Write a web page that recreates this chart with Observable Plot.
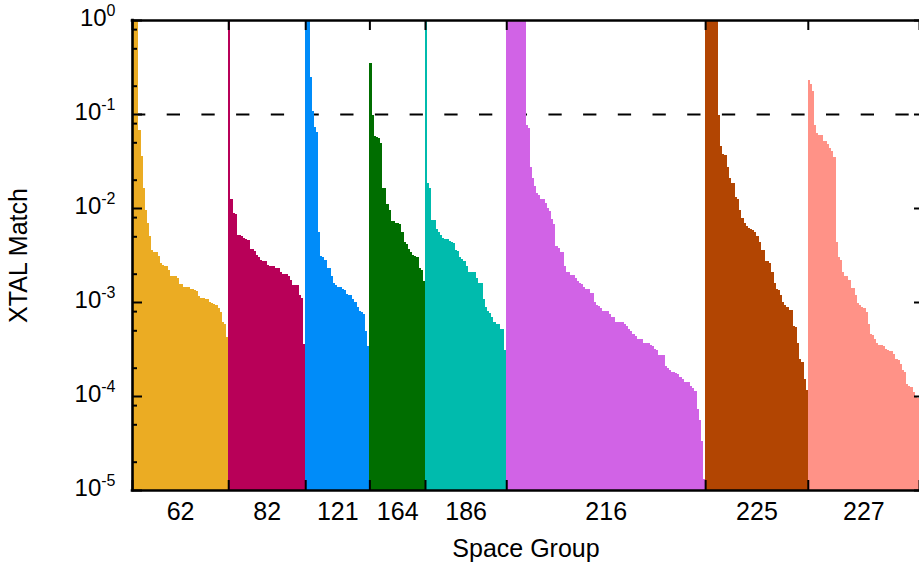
<!DOCTYPE html>
<html>
<head>
<meta charset="utf-8">
<script src="https://cdn.jsdelivr.net/npm/d3@7"></script>
<script src="https://cdn.jsdelivr.net/npm/@observablehq/plot@0.6"></script>
<style>
  body { margin: 0; background: #fff; }
  #chart svg { display: block; }
</style>
</head>
<body>
<div id="chart"></div>
<script>
// ---- Data ----
const groups = ["62", "82", "121", "164", "186", "216", "225", "227"];
const colors = ["#ebac23", "#b80058", "#008cf9", "#006e00", "#00bbad", "#d163e6", "#b24502", "#ff9287"];

const sg62 = [1.0, 1.0, 1.0, 0.068, 0.036, 0.0165, 0.0096, 0.0070, 0.0050, 0.0036,
  0.0034, 0.0034, 0.0031, 0.0026, 0.0025, 0.0024, 0.0024, 0.0022, 0.0019, 0.00187,
  0.00187, 0.00178, 0.00154, 0.00154, 0.00146, 0.00146, 0.00145, 0.00139, 0.00136, 0.00133,
  0.00130, 0.00115, 0.00109, 0.00109, 0.00107, 0.00107, 0.00101, 0.00097, 0.00096, 0.00094,
  0.00086, 0.00078, 0.00062, 0.00058, 0.00042];
const sg82 = [1.0, 0.0126, 0.0089, 0.0087, 0.0052, 0.0051, 0.0050, 0.0048, 0.0047, 0.0046,
  0.0037, 0.0037, 0.0035, 0.0032, 0.0030, 0.0028, 0.0027, 0.0027, 0.0025, 0.0024,
  0.0024, 0.0024, 0.0023, 0.0023, 0.0021, 0.0020, 0.0020, 0.0020, 0.0019, 0.0017,
  0.0015, 0.0015, 0.0015, 0.0012, 0.0011, 0.00036];
const sg121 = [1.0, 1.0, 0.248, 0.107, 0.073, 0.065, 0.0055, 0.0031, 0.0030, 0.0028,
  0.0023, 0.0023, 0.0019, 0.0016, 0.0015, 0.00146, 0.00143, 0.00136, 0.00133, 0.00123,
  0.00120, 0.00118, 0.00107, 0.00099, 0.00088, 0.00081, 0.00079, 0.00074, 0.00049, 0.00034];
const sg164 = [0.35, 0.098, 0.059, 0.057, 0.055, 0.049, 0.0165, 0.0165, 0.0109, 0.0096,
  0.0073, 0.0072, 0.0070, 0.0069, 0.0067, 0.0056, 0.0043, 0.0041, 0.0037, 0.0034,
  0.0032, 0.0031, 0.0030, 0.0023, 0.0022, 0.00166];
const sg186 = [1.0, 0.0186, 0.0165, 0.0075, 0.0075, 0.0060, 0.0055, 0.0051, 0.0048, 0.0047,
  0.0047, 0.0045, 0.0044, 0.0042, 0.0036, 0.0035, 0.0030, 0.0029, 0.0027, 0.0024,
  0.0021, 0.0021, 0.0021, 0.00206, 0.00182, 0.0016, 0.0016, 0.00107, 0.00088, 0.00081,
  0.00076, 0.00069, 0.00062, 0.00059, 0.00058, 0.00051, 0.00051, 0.00031];
const sg216 = [1.0, 1.0, 1.0, 1.0, 1.0, 1.0, 1.0, 1.0, 1.0,
  0.077, 0.071, 0.0275, 0.021, 0.0173, 0.0146, 0.0139, 0.0126, 0.0126, 0.0114,
  0.0099, 0.0092, 0.0077, 0.0068, 0.0039, 0.0038, 0.0034, 0.0034, 0.0024, 0.0021,
  0.00206, 0.00196, 0.00192, 0.00178, 0.00166, 0.00158, 0.00154, 0.00146, 0.00139, 0.00136,
  0.00126, 0.00126, 0.00101, 0.00094, 0.00090, 0.00086, 0.00081, 0.00081, 0.00081, 0.00074,
  0.00070, 0.00070, 0.00062, 0.00062, 0.00061, 0.00061, 0.00059, 0.00056, 0.00051, 0.00049,
  0.00046, 0.00043, 0.00040, 0.00040, 0.00040, 0.00037, 0.00037, 0.00037, 0.00035, 0.00034,
  0.00032, 0.00031, 0.00027, 0.00027, 0.00027, 0.00021, 0.00020, 0.00019, 0.00018, 0.00018,
  0.000177, 0.00017, 0.00016, 0.00015, 0.000142, 0.000142, 0.00014, 0.000127, 0.000121, 0.000112,
  0.0000724, 0.0000553, 0.0000331, 0.000013];
const sg225 = [1.0, 1.0, 1.0, 1.0, 1.0, 1.0, 0.098, 0.046, 0.038, 0.037,
  0.0275, 0.021, 0.0186, 0.0186, 0.0132, 0.0126, 0.0096, 0.0079, 0.0070, 0.0065,
  0.0062, 0.0060, 0.0059, 0.0055, 0.0050, 0.0044, 0.0036, 0.0036, 0.0027, 0.0027,
  0.0026, 0.0021, 0.00158, 0.00139, 0.00133, 0.00120, 0.00099, 0.00092, 0.00088, 0.00083,
  0.00083, 0.00056, 0.00054, 0.00037, 0.00025, 0.00023, 0.00015, 0.000115];
const sg227 = [0.23, 0.21, 0.176, 0.077, 0.063, 0.060, 0.060, 0.051, 0.051, 0.048,
  0.044, 0.040, 0.035, 0.0044, 0.0030, 0.0028, 0.0021, 0.0019, 0.0019, 0.0017,
  0.0014, 0.0014, 0.0012, 0.00097, 0.00092, 0.00088, 0.00086, 0.00078, 0.00059, 0.00046,
  0.00045, 0.00040, 0.00037, 0.00035, 0.00035, 0.00034, 0.00032, 0.00031, 0.00030, 0.00030,
  0.00028, 0.00025, 0.00024, 0.00022, 0.00019, 0.00018, 0.000133, 0.000127, 0.000124, 0.00011,
  0.000100, 0.000095];

const yTicks = [1e0, 1e-1, 1e-2, 1e-3, 1e-4, 1e-5];
const minorMultipliers = [2, 5, 8];
const threshold = 0.1;
const xTitle = "Space Group";
const yTitle = "XTAL Match";

// ---- Build tables ----
const series = [sg62, sg82, sg121, sg164, sg186, sg216, sg225, sg227];
const bars = [];
const bounds = [];
let idx = 0;
series.forEach((vals, g) => {
  bounds.push(idx);
  vals.forEach(v => { bars.push({group: groups[g], i: idx, value: v}); idx++; });
});
bounds.push(idx);
const total = idx;
const groupInfo = groups.map((g, k) => ({group: g, mid: (bounds[k] + bounds[k + 1]) / 2}));
const minorTicks = [];
for (let e = -5; e < 0; e++) for (const m of minorMultipliers) minorTicks.push(m * Math.pow(10, e));

const W = 919, H = 567, mL = 132, mR = 0, mT = 20, mB = 77;
const pw = W - mL - mR, ph = H - mT - mB;
const font = "'Liberation Sans', Arial, Helvetica, sans-serif";

const plot = Plot.plot({
  width: W, height: H,
  marginLeft: mL, marginRight: mR, marginTop: mT, marginBottom: mB,
  x: {domain: [0, total], axis: null},
  y: {type: "log", domain: [1e-5, 1], axis: null},
  color: {domain: groups, range: colors},
  style: {fontFamily: font, background: "white", color: "black"},
  marks: [
    Plot.ruleY([threshold], {stroke: "black", strokeWidth: 2.2, strokeDasharray: "13.3,21.4"}),
    Plot.rectY(bars, {x1: "i", x2: d => d.i + 1, y1: 1e-5, y2: "value", fill: "group", shapeRendering: "crispEdges", clip: true}),
    // inward ticks
    Plot.ruleY(yTicks, {stroke: "black", strokeWidth: 2, insetRight: pw - 10}),
    Plot.ruleY(minorTicks, {stroke: "black", strokeWidth: 2, insetRight: pw - 5}),
    Plot.ruleY(yTicks, {stroke: "black", strokeWidth: 2, insetLeft: pw - 5}),
    Plot.ruleX(bounds, {stroke: "black", strokeWidth: 2, insetTop: ph - 10}),
    Plot.ruleX(bounds, {stroke: "black", strokeWidth: 2, insetBottom: ph - 10}),
    // frame (left, top, bottom)
    Plot.ruleX([0], {stroke: "black", strokeWidth: 2.6, strokeLinecap: "square"}),
    Plot.ruleY([1, 1e-5], {stroke: "black", strokeWidth: 2.6, strokeLinecap: "square"}),
    // tick labels (exponent marked with ^ and turned into a superscript below)
    Plot.text(yTicks, {y: d => d, frameAnchor: "left", dx: -17, dy: -2, textAnchor: "end", lineAnchor: "middle",
      text: d => "10^" + String(Math.round(Math.log10(d))), fontSize: 24}),
    Plot.text(groupInfo, {x: "mid", text: "group", frameAnchor: "bottom", textAnchor: "middle", lineAnchor: "middle", dy: 21, fontSize: 25}),
    // axis titles
    Plot.text([xTitle], {frameAnchor: "bottom", textAnchor: "middle", lineAnchor: "middle", dy: 58, fontSize: 25}),
    Plot.text([yTitle], {frameAnchor: "left", textAnchor: "middle", lineAnchor: "middle", dx: -114, rotate: -90, fontSize: 25})
  ]
});

// superscript exponents for the log labels
d3.select(plot).selectAll("text").each(function () {
  const t = d3.select(this);
  const s = t.text();
  if (!/^10\^/.test(s)) return;
  const e = s.slice(3);
  t.text(null);
  t.append("tspan").text("10");
  t.append("tspan").attr("dy", -10).attr("font-size", 16).text(e);
});

document.getElementById("chart").appendChild(plot);
</script>
</body>
</html>
